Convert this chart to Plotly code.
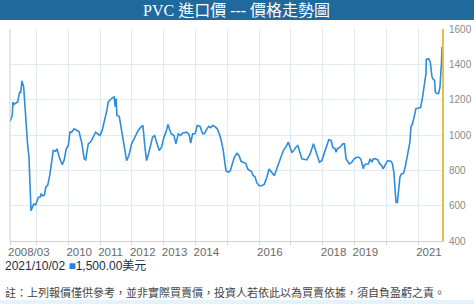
import plotly.graph_objects as go

# ---- data ----
dates = [
    "2008-03-01", "2008-03-27", "2008-04-04", "2008-04-16", "2008-05-28", "2008-06-20", "2008-07-02",
    "2008-07-16", "2008-08-05", "2008-08-28", "2008-09-20", "2008-10-05", "2008-10-28", "2008-11-28",
    "2008-12-21", "2009-01-20", "2009-02-12", "2009-02-23", "2009-03-07", "2009-03-30", "2009-04-18",
    "2009-05-08", "2009-05-31", "2009-07-11", "2009-08-07", "2009-08-22", "2009-09-18", "2009-10-22",
    "2009-11-14", "2009-12-07", "2009-12-31", "2010-01-19", "2010-02-07", "2010-03-06", "2010-04-17",
    "2010-05-02", "2010-06-02", "2010-07-02", "2010-07-18", "2010-08-17", "2010-09-17", "2010-10-13",
    "2010-11-10", "2010-12-03", "2010-12-30", "2011-01-24", "2011-02-24", "2011-03-19", "2011-04-03",
    "2011-04-20", "2011-05-04", "2011-05-24", "2011-06-11", "2011-06-23", "2011-07-04", "2011-07-12",
    "2011-08-08", "2011-09-04", "2011-10-01", "2011-11-01", "2011-11-27", "2011-12-28", "2012-02-04",
    "2012-03-13", "2012-04-13", "2012-05-06", "2012-05-29", "2012-06-17", "2012-07-14", "2012-08-14",
    "2012-08-25", "2012-09-17", "2012-10-10", "2012-11-09", "2012-12-06", "2013-01-03", "2013-01-26",
    "2013-02-18", "2013-03-05", "2013-03-27", "2013-04-28", "2013-05-20", "2013-06-16", "2013-07-14",
    "2013-08-06", "2013-09-21", "2013-10-20", "2013-11-06", "2013-11-28", "2013-12-28", "2014-01-20",
    "2014-02-20", "2014-03-23", "2014-04-11", "2014-05-08", "2014-05-31", "2014-06-23", "2014-07-16",
    "2014-08-08", "2014-09-07", "2014-09-30", "2014-10-23", "2014-11-15", "2014-12-05", "2014-12-16",
    "2015-01-12", "2015-02-04", "2015-02-27", "2015-03-22", "2015-04-22", "2015-05-15", "2015-06-07",
    "2015-07-03", "2015-07-31", "2015-08-23", "2015-09-15", "2015-09-30", "2015-10-26", "2015-11-15",
    "2015-12-04", "2016-01-01", "2016-01-31", "2016-03-01", "2016-03-29", "2016-04-24", "2016-05-25",
    "2016-06-24", "2016-07-21", "2016-08-17", "2016-09-09", "2016-10-05", "2016-11-02", "2016-12-02",
    "2016-12-21", "2017-01-11", "2017-02-03", "2017-02-26", "2017-03-21", "2017-04-13", "2017-05-06",
    "2017-07-02", "2017-08-09", "2017-09-16", "2017-10-25", "2017-11-24", "2017-12-21", "2018-01-16",
    "2018-02-16", "2018-03-11", "2018-04-07", "2018-04-26", "2018-05-23", "2018-06-03", "2018-06-18",
    "2018-07-19", "2018-08-19", "2018-09-07", "2018-09-26", "2018-10-11", "2018-11-03", "2018-12-01",
    "2018-12-27", "2019-01-27", "2019-02-19", "2019-03-14", "2019-03-29", "2019-04-13", "2019-04-21",
    "2019-05-14", "2019-06-10", "2019-06-29", "2019-07-19", "2019-08-06", "2019-08-29", "2019-09-23",
    "2019-10-19", "2019-11-11", "2019-11-26", "2019-12-18", "2020-01-11", "2020-01-26", "2020-02-26",
    "2020-03-12", "2020-03-28", "2020-04-12", "2020-04-23", "2020-05-08", "2020-05-20", "2020-06-05",
    "2020-06-20", "2020-07-16", "2020-08-05", "2020-08-24", "2020-09-12", "2020-09-28", "2020-10-10",
    "2020-10-28", "2020-11-20", "2020-12-06", "2021-01-06", "2021-01-29", "2021-02-21", "2021-03-16",
    "2021-04-01", "2021-04-05", "2021-05-01", "2021-05-20", "2021-06-09", "2021-06-24", "2021-07-09",
    "2021-07-17", "2021-08-01", "2021-08-24", "2021-09-09", "2021-09-20", "2021-09-26", "2021-10-02",
]
prices = [
    1077, 1111, 1187, 1174, 1187, 1244, 1238,
    1306, 1272, 1083, 940, 874, 571, 609,
    605, 646, 650, 669, 656, 658, 707,
    715, 770, 912, 908, 922, 874, 832,
    859, 922, 940, 1016, 1016, 1035, 1026,
    1020, 959, 865, 859, 950, 963, 988,
    1016, 1007, 997, 1026, 1083, 1140, 1187,
    1197, 1206, 1212, 1216, 1159, 1206, 1111,
    1106, 1026, 922, 855, 884, 950, 988,
    1026, 1045, 1054, 931, 855, 902, 969,
    988, 997, 959, 912, 931, 988, 1016,
    1060, 1035, 1007, 997, 950, 1007, 997,
    1011, 1016, 1001, 954, 1007, 1007, 1054,
    1050, 1007, 1007, 1030, 1049, 1041, 1054,
    1049, 1035, 1007, 969, 912, 817, 798,
    789, 798, 836, 874, 897, 884, 851,
    846, 840, 808, 798, 798, 770, 764,
    732, 713, 713, 722, 760, 808, 789,
    770, 808, 846, 874, 912, 931, 959,
    931, 902, 912, 931, 940, 902, 865,
    859, 893, 950, 893, 846, 855, 893,
    950, 973, 969, 931, 922, 902, 922,
    931, 950, 950, 865, 855, 836, 846,
    865, 874, 874, 865, 827, 808, 827,
    836, 836, 865, 846, 865, 865, 860,
    836, 827, 808, 827, 851, 855, 851,
    836, 789, 685, 618, 618, 666, 760,
    779, 783, 817, 865, 912, 959, 1045,
    1064, 1111, 1149, 1153, 1155, 1216, 1282,
    1349, 1428, 1432, 1415, 1329, 1314, 1310,
    1244, 1235, 1235, 1272, 1367, 1405, 1500,
]
x_tick_vals = ["2008-03-01", "2009-01-01", "2010-01-01", "2011-01-01", "2012-01-01", "2013-01-01",
               "2014-01-01", "2015-01-01", "2016-01-01", "2017-01-01", "2018-01-01", "2019-01-01",
               "2020-01-01", "2021-01-01"]
x_tick_text = ["2008/03", "", "2010", "2011", "2012", "2013", "2014", "", "2016", "", "2018", "2019", "", "2021"]
y_tick_vals = [400, 600, 800, 1000, 1200, 1400, 1600]

title_text = "PVC 進口價 --- 價格走勢圖"
last_label = "2021/10/02 <span style='color:#1f86de'>■</span>1,500.00美元"
note_text = "註：上列報價僅供參考，並非實際買賣價，投資人若依此以為買賣依據，須自負盈虧之責。"

W, H = 474, 304
L, R, T, B = 10, 32, 29, 63
PW, PH = W - L - R, H - T - B


def px_x(px):
    return (px - L) / PW


def px_y(py):
    return (H - B - py) / PH


fig = go.Figure()
fig.add_trace(go.Scatter(
    x=dates, y=prices, mode="lines",
    line=dict(color="#2d8ddb", width=1.6),
    hoverinfo="skip", showlegend=False,
))

fig.update_layout(
    width=W, height=H,
    margin=dict(l=L, r=R, t=T, b=B, pad=0),
    paper_bgcolor="white", plot_bgcolor="white",
    font=dict(family="Arial, Liberation Sans, Noto Sans CJK TC", color="#666"),
    showlegend=False,
)
fig.update_xaxes(
    type="date", range=["2008-03-01", "2021-10-02"],
    tickvals=x_tick_vals, ticktext=x_tick_text, tickangle=0,
    ticklabelposition="outside right", ticklabelshift=-3, ticklabelstandoff=0,
    ticks="outside", ticklen=3, tickcolor="#cfcfcf",
    tickfont=dict(size=11.5, color="#6a6a6a", family="Arial, Liberation Sans"),
    showgrid=True, gridcolor="#dfeaf3", gridwidth=1,
    showline=True, linecolor="#d0d0d0", linewidth=1,
    zeroline=False, fixedrange=True, automargin=False,
)
fig.update_yaxes(
    side="right", range=[400, 1600], tickvals=y_tick_vals,
    tickfont=dict(size=10, color="#8a8a8a", family="Arial, Liberation Sans"),
    ticklabelstandoff=3,
    showgrid=True, gridcolor="#dfeaf3", gridwidth=1,
    showline=True, linecolor="#e3c04e", linewidth=2,
    zeroline=False, fixedrange=True, automargin=False,
)

# title bar
fig.add_shape(type="rect", xref="paper", yref="paper",
              x0=px_x(0), x1=px_x(W), y0=px_y(20), y1=px_y(0),
              fillcolor="#1f699c", line_width=0, layer="below")
# left border
fig.add_shape(type="line", xref="paper", yref="paper",
              x0=0, x1=0, y0=0, y1=1, line=dict(color="#cfcfcf", width=1))
# bottom band
fig.add_shape(type="rect", xref="paper", yref="paper",
              x0=px_x(0), x1=px_x(W), y0=px_y(H), y1=px_y(300),
              fillcolor="#e3f2fb", line_width=0, layer="below")

fig.add_annotation(text=title_text, xref="paper", yref="paper",
                   x=px_x(237), y=px_y(10.5), xanchor="center", yanchor="middle",
                   showarrow=False,
                   font=dict(size=16, color="white",
                             family="Liberation Serif, DejaVu Serif, Noto Sans CJK TC"))
fig.add_annotation(text=last_label, xref="paper", yref="paper",
                   x=px_x(3), y=px_y(266), xanchor="left", yanchor="middle",
                   showarrow=False,
                   font=dict(size=12, color="#1e2b45",
                             family="Arial, Liberation Sans, Noto Sans CJK TC"))
fig.add_annotation(text=note_text, xref="paper", yref="paper",
                   x=px_x(3), y=px_y(292), xanchor="left", yanchor="middle",
                   showarrow=False,
                   font=dict(size=11, color="#444",
                             family="Arial, Liberation Sans, Noto Sans CJK TC"))

fig.write_html("out.html")
